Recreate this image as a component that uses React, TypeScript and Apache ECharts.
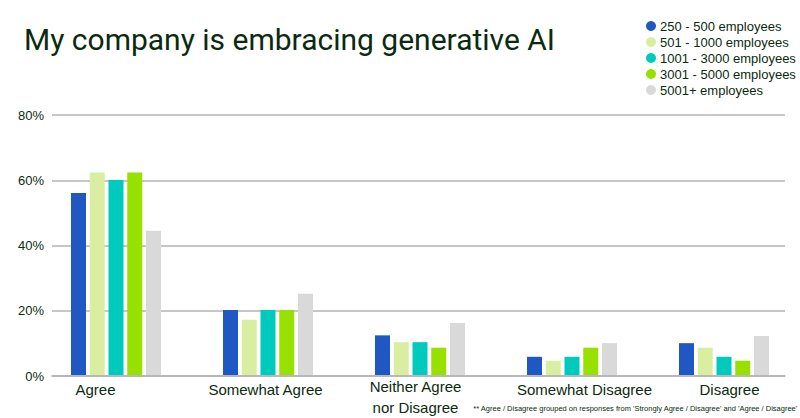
import React, { useEffect, useRef } from "react";
import * as echarts from "echarts";

const categories = ["Agree", "Somewhat Agree", "Neither Agree\nnor Disagree", "Somewhat Disagree", "Disagree"];
const seriesNames = ["250 - 500 employees", "501 - 1000 employees", "1001 - 3000 employees", "3001 - 5000 employees", "5001+ employees"];
const s250to500 = [56, 20, 12.2, 5.6, 9.8];
const s501to1000 = [62.3, 17, 10.1, 4.4, 8.4];
const s1001to3000 = [60, 20, 10.1, 5.6, 5.6];
const s3001to5000 = [62.3, 20, 8.4, 8.4, 4.4];
const s5001plus = [44.4, 25, 16, 9.8, 12];
const seriesValues = [s250to500, s501to1000, s1001to3000, s3001to5000, s5001plus];
const colors = ["#1f57c3", "#daeea2", "#00cabd", "#97e000", "#d9d9d9"];
const yTicks = [0, 20, 40, 60, 80];
const footnote = "** Agree / Disagree grouped on responses from 'Strongly Agree / Disagree' and 'Agree / Disagree'";
const titleText = "My company is embracing generative AI";

const TEXT = "#0c2a10";
const FONT = "'Liberation Sans', Arial, sans-serif";
const richKeys = ["a", "b", "c", "d", "e"];

export default function App() {
  const ref = useRef<HTMLDivElement>(null);
  useEffect(() => {
    if (!ref.current) return;
    const chart = echarts.init(ref.current, null, { renderer: "svg" });
    const grid0 = { left: 52, right: 15, top: 115, bottom: 42 };
    const grid1 = { left: 40, width: 765, top: 115, bottom: 42 };
    chart.setOption({
      animation: false,
      backgroundColor: "#ffffff",
      textStyle: { fontFamily: FONT },
      title: {
        text: titleText,
        left: 19,
        top: 19,
        textStyle: { fontFamily: "Roboto, 'Liberation Sans', sans-serif", fontSize: 30, fontWeight: "normal", color: TEXT },
      },
      legend: {
        orient: "vertical",
        left: 641,
        top: 13,
        icon: "circle",
        itemWidth: 10,
        itemHeight: 10,
        itemGap: 0,
        textStyle: { fontFamily: FONT, fontSize: 13, color: TEXT, lineHeight: 16, padding: [0, 0, 0, -1] },
        data: seriesNames,
      },
      graphic: [
        {
          type: "text",
          right: 2,
          top: 404,
          style: { text: footnote, fontFamily: FONT, fontSize: 7.5, fill: TEXT },
        },
      ],
      grid: [grid0, grid1],
      xAxis: [
        {
          type: "category",
          gridIndex: 0,
          data: categories,
          axisLine: { show: true, lineStyle: { color: "#b3b3b3", width: 1.5 } },
          axisTick: { show: false },
          axisLabel: { show: false },
        },
        {
          type: "category",
          gridIndex: 1,
          data: categories,
          axisLine: { show: false },
          axisTick: { show: false },
          axisLabel: {
            interval: 0,
            margin: 1,
            color: TEXT,
            fontFamily: FONT,
            fontSize: 15,
            lineHeight: 21,
            formatter: (v: string, i: number) =>
              v.split("\n").map((line) => `{${richKeys[i]}|${line}}`).join("\n"),
            rich: {
              a: { fontSize: 15, color: TEXT, lineHeight: 21, padding: [5, 41, 0, 0] },
              b: { fontSize: 15, color: TEXT, lineHeight: 21, padding: [5, 5, 0, 0] },
              c: { fontSize: 15, color: TEXT, lineHeight: 21, padding: [0, 9, 0, 0] },
              d: { fontSize: 15, color: TEXT, lineHeight: 21, padding: [5, 0, 0, 25] },
              e: { fontSize: 15, color: TEXT, lineHeight: 21, padding: [5, 0, 0, 11] },
            },
          },
        },
      ],
      yAxis: [
        {
          type: "value",
          gridIndex: 0,
          min: yTicks[0],
          max: yTicks[yTicks.length - 1],
          interval: 20,
          axisLine: { show: false },
          axisTick: { show: false },
          axisLabel: {
            margin: 8,
            color: TEXT,
            fontFamily: FONT,
            fontSize: 13,
            formatter: (v: number) => `${v}%`,
          },
          splitLine: { show: true, lineStyle: { color: "#b3b3b3", width: 1.5 } },
        },
        {
          type: "value",
          gridIndex: 1,
          min: yTicks[0],
          max: yTicks[yTicks.length - 1],
          interval: 20,
          show: false,
          splitLine: { show: false },
        },
      ],
      series: seriesNames.map((name, i) => ({
        name,
        type: "bar",
        xAxisIndex: 1,
        yAxisIndex: 1,
        data: seriesValues[i],
        barWidth: 15,
        barGap: "25%",
        itemStyle: { color: colors[i] },
        emphasis: { disabled: true },
      })),
    });
    return () => chart.dispose();
  }, []);
  return (
    <div
      ref={ref}
      style={{ position: "fixed", left: 0, top: 0, width: 800, height: 418, background: "#fff" }}
    />
  );
}
